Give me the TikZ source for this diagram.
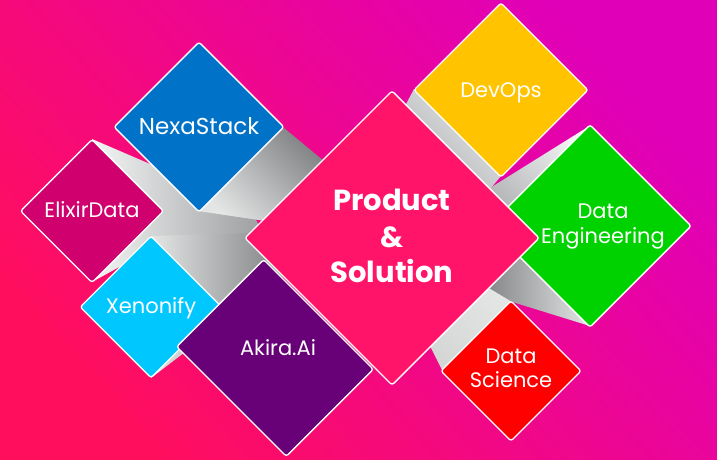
\documentclass[tikz,border=0pt]{standalone}
\usepackage{fontspec}
\setmainfont{Poppins}
\definecolor{bgL}{HTML}{FF0E5E}
\definecolor{bgR}{HTML}{E000B8}
\definecolor{cProd}{HTML}{FF1469}
\definecolor{cNexa}{HTML}{0073C8}
\definecolor{cElix}{HTML}{D0006E}
\definecolor{cXen}{HTML}{00C8FF}
\definecolor{cAki}{HTML}{680078}
\definecolor{cDev}{HTML}{FFC300}
\definecolor{cDE}{HTML}{00D200}
\definecolor{cDS}{HTML}{FF0000}
\definecolor{gDark}{HTML}{7E8082}
\definecolor{gMid}{HTML}{9C9EA0}
\definecolor{gSoft}{HTML}{B0B2B4}
\definecolor{gLight}{HTML}{E4E6E6}
\definecolor{gWhite}{HTML}{F4F5F5}
\tikzset{
  box/.style={draw=white, line width=1.3pt, rounded corners=2.5pt, rotate=45, inner sep=0pt, outer sep=0pt},
  lbl/.style={text=white, font=\fontsize{21}{25}\selectfont, inner sep=0pt, anchor=base},
  ttl/.style={text=white, font=\bfseries\fontsize{29}{35}\selectfont, inner sep=0pt, anchor=base},
  rib/.style n args={3}{top color=#1, bottom color=#2, shading angle=#3},
}
\begin{document}
\begin{tikzpicture}[x=1pt, y=-1pt]
\useasboundingbox (0,0) rectangle (717,460);
\shade[top color=bgR, bottom color=bgL, shading angle=-48] (0,0) rectangle (717,460);
% ribbons
\path[rib={gWhite}{gMid}{90}] (92,139) -- (250,207) -- (262,232) -- (150,250) -- (92,282) -- cycle;
\path[rib={gLight}{gDark}{90}] (151,236) -- (256,233) -- (285,275) -- (240,310) -- (151,378) -- cycle;
\path[rib={gDark}{gLight}{-45}] (284,128) -- (330,166) -- (272,222) -- (198,211) -- cycle;
\path[rib={gLight}{gSoft}{-45}] (414,89) -- (404,108) -- (485,195) -- (501,176) -- cycle;
\path[rib={gWhite}{gSoft}{-45}] (591,125) -- (490,188) -- (470,210) -- (560,200) -- cycle;
\path[rib={gDark}{gLight}{90}] (590,326) -- (480,292) -- (520,240) -- cycle;
\path[rib={gLight}{gLight!85!gray}{-45}] (512,302) -- (482,284) -- (428,342) -- (442,370) -- cycle;
% boxes
\node[box, fill=cDE, minimum size=143pt] (de) at (590,226) {};
\node[box, fill=cProd, minimum size=208pt] (prod) at (392,238) {};
\node[box, fill=cDev, minimum size=123pt] (dev) at (501,90) {};
\node[box, fill=cNexa, minimum size=120pt] (nexa) at (199,127) {};
\node[box, fill=cElix, minimum size=101pt] (elix) at (92,211) {};
\node[box, fill=cXen, minimum size=100pt] (xen) at (151,307) {};
\node[box, fill=cAki, minimum width=123pt, minimum height=155pt] (aki) at (275,358) {};
\node[box, fill=cDS, minimum size=99pt] (ds) at (511,371) {};
% labels
\node[ttl] (t1) at (392,210) {Product};
\node[ttl] (t2) at (392,247) {\&};
\node[ttl] (t3) at (392,282) {Solution};
\node[lbl, font=\fontsize{23}{27}\selectfont] (l1) at (199,134) {NexaStack};
\node[lbl] (l2) at (92,217) {ElixirData};
\node[lbl] (l3) at (151,313) {Xenonify};
\node[lbl] (l4) at (278,355) {Akira.Ai};
\node[lbl] (l5) at (501,97) {DevOps};
\node[lbl] (l6) at (603,218) {Data};
\node[lbl] (l7) at (603,243) {Engineering};
\node[lbl] (l8) at (511,363) {Data};
\node[lbl] (l9) at (511,387) {Science};
\end{tikzpicture}
\end{document}
